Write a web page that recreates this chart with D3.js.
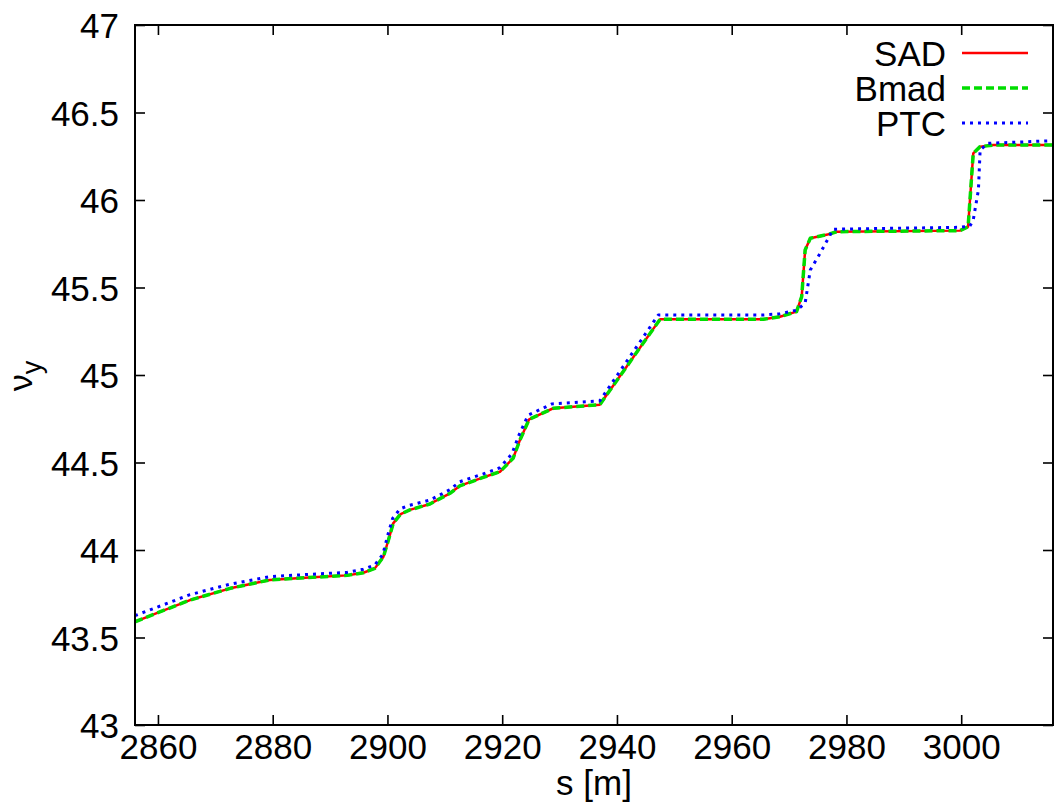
<!DOCTYPE html>
<html>
<head>
<meta charset="utf-8">
<script src="https://cdn.jsdelivr.net/npm/d3@7"></script>
<style>
  html, body { margin: 0; padding: 0; background: #fff; }
  svg { display: block; font-family: "Liberation Sans", Arial, Helvetica, sans-serif; }
</style>
</head>
<body>
<svg id="chart" width="1055" height="806"></svg>
<script>
// Vertical betatron tune advance along the ring, three tracking codes
const sadS  = [2856, 2860, 2865.6, 2872.6, 2879.5, 2887, 2893, 2895.8, 2897.8, 2899.3, 2900.2, 2901.0, 2902.3, 2903.9, 2907.4, 2910.9, 2912.6, 2916.7, 2919.6, 2921.9, 2923.1, 2924.7, 2928.9, 2937.0, 2947.5, 2965.5, 2968.4, 2971.3, 2972.2, 2972.8, 2973.7, 2977.1, 2978.3, 2999.8, 3001.2, 3002.1, 3003.3, 3005.6, 3016];
const sadNu = [43.59, 43.642, 43.714, 43.781, 43.829, 43.844, 43.855, 43.87, 43.895, 43.962, 44.06, 44.152, 44.205, 44.229, 44.263, 44.324, 44.366, 44.415, 44.447, 44.524, 44.629, 44.747, 44.81, 44.83, 45.318, 45.318, 45.333, 45.362, 45.448, 45.714, 45.781, 45.806, 45.819, 45.825, 45.847, 46.267, 46.305, 46.314, 46.314];

const bmadS  = [2856, 2860, 2865.6, 2872.6, 2879.5, 2887, 2893, 2895.8, 2897.8, 2899.3, 2900.2, 2901.0, 2902.3, 2903.9, 2907.4, 2910.9, 2912.6, 2916.7, 2919.6, 2921.9, 2923.1, 2924.7, 2928.9, 2937.0, 2947.5, 2965.5, 2968.4, 2971.3, 2972.2, 2972.8, 2973.7, 2977.1, 2978.3, 2999.8, 3001.2, 3002.1, 3003.3, 3005.6, 3016];
const bmadNu = [43.59, 43.642, 43.714, 43.781, 43.829, 43.844, 43.855, 43.87, 43.895, 43.962, 44.06, 44.152, 44.205, 44.229, 44.263, 44.324, 44.366, 44.415, 44.447, 44.524, 44.629, 44.747, 44.81, 44.83, 45.318, 45.318, 45.333, 45.362, 45.448, 45.714, 45.781, 45.806, 45.819, 45.825, 45.847, 46.267, 46.305, 46.314, 46.314];

const ptcS  = [2856, 2865.6, 2872.6, 2879.5, 2887, 2893, 2895.8, 2897.8, 2899.2, 2900.1, 2900.9, 2902.2, 2903.8, 2907.4, 2910.9, 2912.6, 2916.7, 2919.6, 2921.7, 2922.9, 2924.5, 2928.7, 2937.0, 2947.2, 2965.5, 2968.4, 2971.3, 2972.8, 2973.7, 2975.4, 2977.7, 2999.8, 3001.5, 3002.1, 3003.0, 3003.3, 3004.7, 3016];
const ptcNu = [43.625, 43.745, 43.805, 43.848, 43.862, 43.872, 43.89, 43.915, 43.975, 44.09, 44.18, 44.235, 44.255, 44.285, 44.345, 44.39, 44.435, 44.47, 44.55, 44.655, 44.77, 44.835, 44.852, 45.343, 45.343, 45.35, 45.37, 45.41, 45.6, 45.695, 45.833, 45.844, 45.85, 45.886, 46.057, 46.286, 46.324, 46.339];

const xTicks = [2860, 2880, 2900, 2920, 2940, 2960, 2980, 3000];
const yTicks = [43, 43.5, 44, 44.5, 45, 45.5, 46, 46.5, 47];

const seriesNames = ["SAD", "Bmad", "PTC"];
const seriesColors = ["#ff0000", "#00dd00", "#0000ff"];

const series = [
  { name: seriesNames[0], s: sadS,  nu: sadNu,  color: seriesColors[0], width: 2.5, dash: null },
  { name: seriesNames[1], s: bmadS, nu: bmadNu, color: seriesColors[1], width: 3.5, dash: "8,4" },
  { name: seriesNames[2], s: ptcS,  nu: ptcNu,  color: seriesColors[2], width: 3,   dash: "3,5" }
];

const svg = d3.select("#chart");
const plotL = 135, plotR = 1053, plotT = 25, plotB = 725;
const fontSize = 35;
const fontFamily = "'Liberation Sans', Arial, Helvetica, sans-serif";

const x = d3.scaleLinear().domain([2856, 3016]).range([plotL, plotR]);
const y = d3.scaleLinear().domain([43, 47]).range([plotB, plotT]);

svg.append("defs").append("clipPath").attr("id", "plotClip")
  .append("rect").attr("x", plotL).attr("y", plotT)
  .attr("width", plotR - plotL).attr("height", plotB - plotT);

// Curves, drawn as straight segments between the sampled points
const line = d3.line()
  .x(d => x(d[0]))
  .y(d => y(d[1]))
  .curve(d3.curveLinear);

const curves = svg.append("g").attr("clip-path", "url(#plotClip)");
series.forEach(sr => {
  const pts = sr.s.map((v, i) => [v, sr.nu[i]]);
  curves.append("path")
    .datum(pts)
    .attr("d", line)
    .attr("fill", "none")
    .attr("stroke", sr.color)
    .attr("stroke-width", sr.width)
    .attr("stroke-dasharray", sr.dash)
    .attr("stroke-linejoin", "round");
});

// Axes with inward ticks on all four sides
function styleAxis(g, dy) {
  g.select(".domain").remove();
  g.selectAll(".tick line").attr("stroke", "#000").attr("stroke-width", 1.6);
  g.selectAll(".tick text").attr("fill", "#000").attr("dy", dy)
    .style("font-size", fontSize + "px")
    .style("font-family", fontFamily);
}

svg.append("g").attr("transform", `translate(0,${plotB})`)
  .call(d3.axisBottom(x).tickValues(xTicks).tickFormat(d3.format("d"))
    .tickSizeInner(-10).tickSizeOuter(0).tickPadding(9))
  .call(styleAxis, "0.71em");

svg.append("g").attr("transform", `translate(0,${plotT})`)
  .call(d3.axisTop(x).tickValues(xTicks).tickFormat("")
    .tickSizeInner(-10).tickSizeOuter(0))
  .call(styleAxis, "0em");

svg.append("g").attr("transform", `translate(${plotL},0)`)
  .call(d3.axisLeft(y).tickValues(yTicks).tickFormat(d3.format("~g"))
    .tickSizeInner(-10).tickSizeOuter(0).tickPadding(16))
  .call(styleAxis, "0.36em");

svg.append("g").attr("transform", `translate(${plotR},0)`)
  .call(d3.axisRight(y).tickValues(yTicks).tickFormat("")
    .tickSizeInner(-10).tickSizeOuter(0))
  .call(styleAxis, "0em");

// Frame
svg.append("rect")
  .attr("x", plotL).attr("y", plotT)
  .attr("width", plotR - plotL).attr("height", plotB - plotT)
  .attr("fill", "none").attr("stroke", "#000").attr("stroke-width", 2);

// Axis titles
svg.append("text")
  .attr("x", (plotL + plotR) / 2).attr("y", 795)
  .attr("text-anchor", "middle")
  .style("font-size", fontSize + "px")
  .text("s [m]");

const yTitle = svg.append("text")
  .attr("transform", "translate(32,376) rotate(-90)")
  .attr("text-anchor", "middle")
  .style("font-size", "34px");
yTitle.append("tspan").text("ν");
yTitle.append("tspan").attr("dy", 9).style("font-size", "27px").text("y");

// Legend
const legend = svg.append("g");
series.forEach((sr, i) => {
  const ly = 53 + i * 35;
  legend.append("text")
    .attr("x", 946).attr("y", ly).attr("dy", "0.36em")
    .attr("text-anchor", "end")
    .style("font-size", fontSize + "px")
    .text(sr.name);
  legend.append("line")
    .attr("x1", 962).attr("x2", 1028)
    .attr("y1", ly).attr("y2", ly)
    .attr("stroke", sr.color)
    .attr("stroke-width", sr.width)
    .attr("stroke-dasharray", sr.dash);
});
</script>
</body>
</html>
